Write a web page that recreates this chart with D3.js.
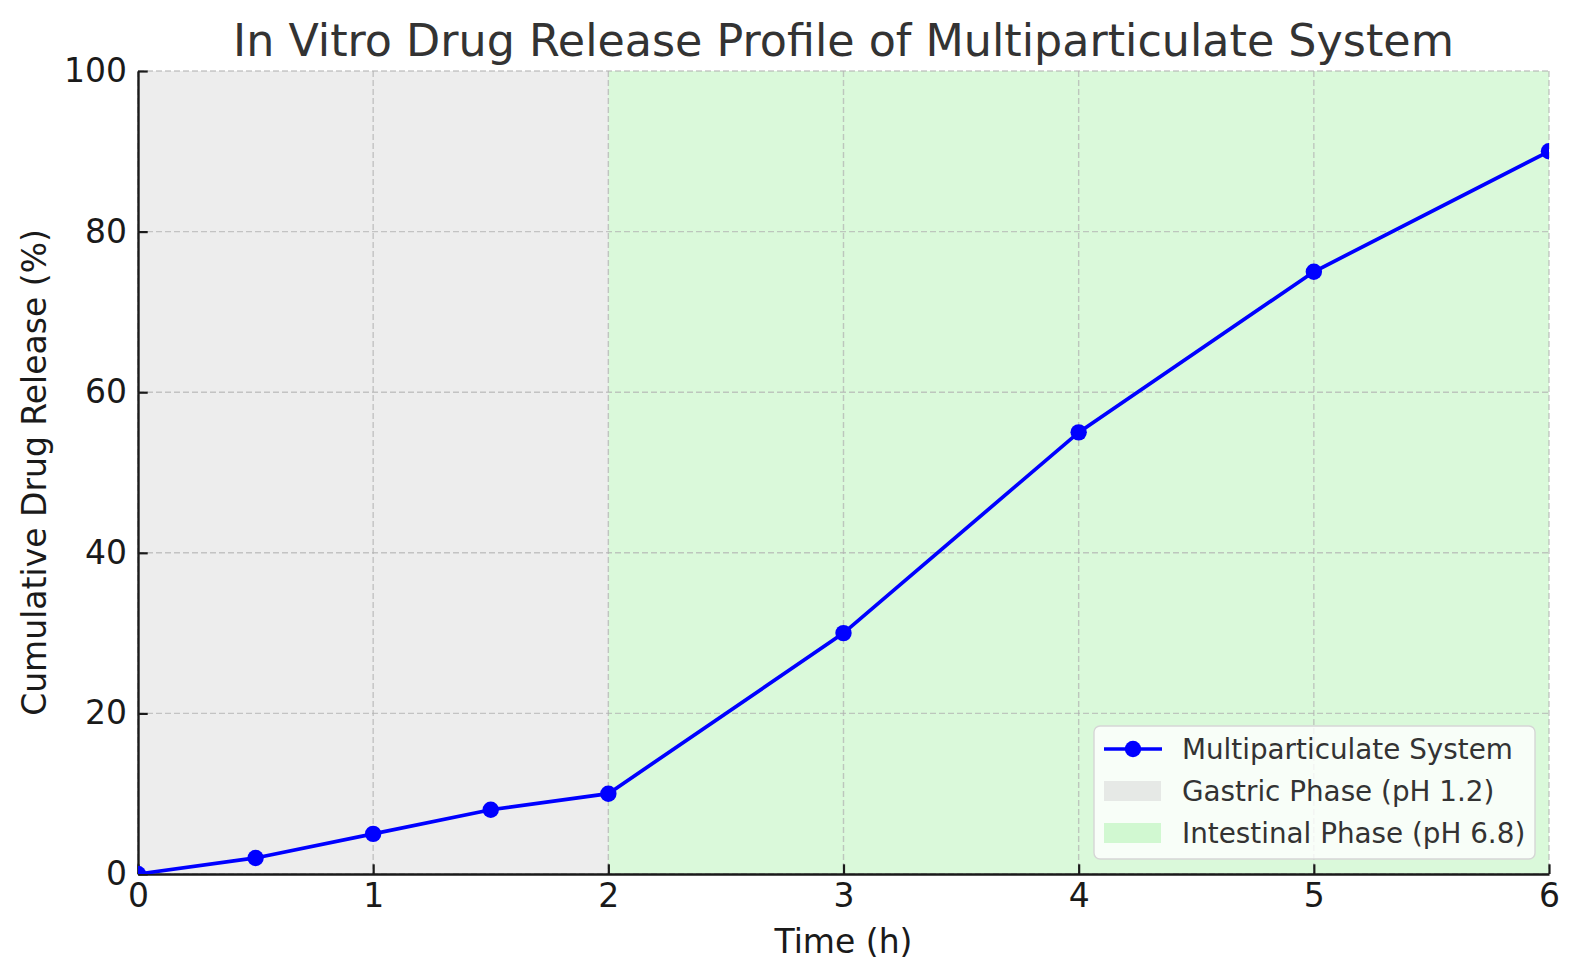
<!DOCTYPE html>
<html><head><meta charset="utf-8">
<script src="https://cdn.jsdelivr.net/npm/d3@7"></script>
<style>body{margin:0;background:#fff;}svg{display:block;font-family:"DejaVu Sans",sans-serif;}</style>
</head><body>
<script>
const timeH = [0, 0.5, 1, 1.5, 2, 3, 4, 5, 6];
const release = [0, 2, 5, 8, 10, 30, 55, 75, 90];
const xTicks = [0, 1, 2, 3, 4, 5, 6];
const yTicks = [0, 20, 40, 60, 80, 100];
const phases = [
  {name: "Gastric Phase (pH 1.2)", start: 0, end: 2, color: "#d3d3d3", alpha: 0.42},
  {name: "Intestinal Phase (pH 6.8)", start: 2, end: 6, color: "#90ee90", alpha: 0.33}
];
const seriesName = "Multiparticulate System";

const W = 1580, H = 980;
const m = {l: 138, r: 31, t: 71, b: 106};
const iw = W - m.l - m.r, ih = H - m.t - m.b;
const svg = d3.select("body").append("svg").attr("width", W).attr("height", H);
const x = d3.scaleLinear().domain([0, 6]).range([0, iw]);
const y = d3.scaleLinear().domain([0, 100]).range([ih, 0]);
const g = svg.append("g").attr("transform", `translate(${m.l},${m.t})`);

svg.append("defs").append("clipPath").attr("id", "clip")
  .append("rect").attr("width", iw).attr("height", ih);

g.selectAll("rect.phase").data(phases).join("rect").attr("class", "phase")
  .attr("x", d => x(d.start)).attr("width", d => x(d.end) - x(d.start))
  .attr("y", 0).attr("height", ih)
  .attr("fill", d => d.color).attr("fill-opacity", d => d.alpha);

// grid
g.selectAll("line.gx").data(xTicks).join("line").attr("class", "gx")
  .attr("x1", d => x(d)).attr("x2", d => x(d)).attr("y1", 0).attr("y2", ih)
  .attr("stroke", "#b0b0b0").attr("stroke-opacity", 0.7).attr("stroke-width", 1.4).attr("stroke-dasharray", "6,3");
g.selectAll("line.gy").data(yTicks).join("line").attr("class", "gy")
  .attr("y1", d => y(d)).attr("y2", d => y(d)).attr("x1", 0).attr("x2", iw)
  .attr("stroke", "#b0b0b0").attr("stroke-opacity", 0.7).attr("stroke-width", 1.4).attr("stroke-dasharray", "6,3");

// axes
const xa = g.append("g").attr("transform", `translate(0,${ih})`)
  .call(d3.axisBottom(x).tickValues(xTicks).tickFormat(d3.format("d")).tickSizeInner(-9.7).tickSizeOuter(0).tickPadding(10));
const ya = g.append("g")
  .call(d3.axisLeft(y).tickValues(yTicks).tickFormat(d3.format("d")).tickSizeInner(-9.7).tickSizeOuter(0).tickPadding(11));
[xa, ya].forEach(a => {
  a.select(".domain").attr("stroke", "#1a1a1a").attr("stroke-width", 2.4);
  a.selectAll(".tick line").attr("stroke", "#1a1a1a").attr("stroke-width", 2.2);
  a.selectAll(".tick text").attr("fill", "#1a1a1a").style("font-size", "33px").style("font-family", "DejaVu Sans");
});

// line
const plot = g.append("g").attr("clip-path", "url(#clip)");
const pts = timeH.map((t, i) => [t, release[i]]);
plot.append("path").datum(pts)
  .attr("fill", "none").attr("stroke", "#0000ff").attr("stroke-width", 3.7)
  .attr("d", d3.line().x(d => x(d[0])).y(d => y(d[1])));
plot.selectAll("circle").data(pts).join("circle")
  .attr("cx", d => x(d[0])).attr("cy", d => y(d[1])).attr("r", 8.2).attr("fill", "#0000ff");

// labels
svg.append("text").attr("x", m.l + iw / 2).attr("y", 56).attr("text-anchor", "middle")
  .attr("fill", "#333").style("font-size", "44.4px").text("In Vitro Drug Release Profile of Multiparticulate System");
svg.append("text").attr("x", m.l + iw / 2).attr("y", 953).attr("text-anchor", "middle")
  .attr("fill", "#1a1a1a").style("font-size", "33px").text("Time (h)");
svg.append("text").attr("transform", `translate(46,${m.t + ih / 2}) rotate(-90)`).attr("text-anchor", "middle")
  .attr("fill", "#1a1a1a").style("font-size", "33px").text("Cumulative Drug Release (%)");

// legend
const lg = svg.append("g").attr("transform", "translate(1094,726)");
lg.append("rect").attr("width", 441).attr("height", 133).attr("rx", 6)
  .attr("fill", "#fff").attr("fill-opacity", 0.8).attr("stroke", "#d6d6d6").attr("stroke-width", 1.4);
const items = [{type: "line", name: seriesName}].concat(phases.map(p => ({type: "patch", name: p.name, p})));
items.forEach((it, i) => {
  const cy = 23 + i * 42;
  if (it.type === "line") {
    lg.append("line").attr("x1", 10).attr("x2", 68).attr("y1", cy).attr("y2", cy).attr("stroke", "#0000ff").attr("stroke-width", 3.7);
    lg.append("circle").attr("cx", 39).attr("cy", cy).attr("r", 8.2).attr("fill", "#0000ff");
  } else {
    lg.append("rect").attr("x", 10).attr("y", cy - 10).attr("width", 57).attr("height", 20)
      .attr("fill", it.p.color).attr("fill-opacity", it.p.alpha + 0.05);
  }
  lg.append("text").attr("x", 88).attr("y", cy).attr("dy", "0.35em").attr("fill", "#333")
    .style("font-size", "27.8px").text(it.name);
});
</script>
</body></html>
